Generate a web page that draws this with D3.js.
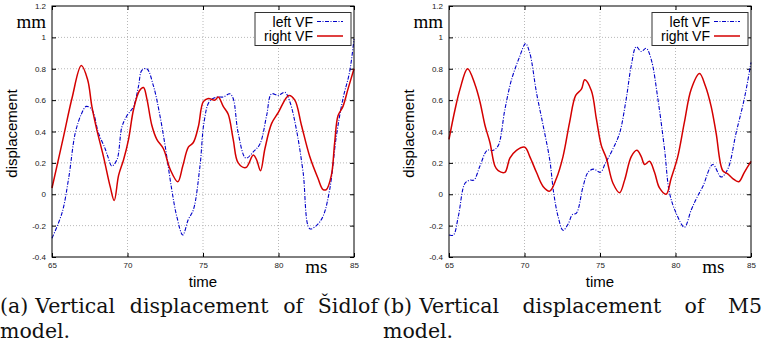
<!DOCTYPE html>
<html>
<head>
<meta charset="utf-8">
<script src="https://cdn.jsdelivr.net/npm/d3@7"></script>
<style>
  body { margin: 0; background: #fff; }
  svg { display: block; }
</style>
</head>
<body>
<div id="chart"></div>
<script>
const timeTicks = [65, 70, 75, 80, 85];
const dispTicks = [-0.4, -0.2, 0, 0.2, 0.4, 0.6, 0.8, 1, 1.2];
const legendLabels = ['left VF', 'right VF'];

// Sidlof model
const sidlofLeftT = [65.00, 65.66, 66.10, 66.54, 66.94, 67.27, 67.64, 68.08, 68.52, 68.70, 68.96, 69.30, 69.63, 69.96, 70.40, 70.73, 70.95, 71.28, 71.72, 72.11, 72.49, 72.93, 73.26, 73.66, 74.03, 74.36, 74.80, 75.07, 75.42, 75.90, 76.34, 76.78, 77.00, 77.33, 77.84, 78.33, 78.77, 79.21, 79.54, 79.98, 80.42, 80.75, 81.19, 81.63, 82.07, 82.51, 82.95, 83.39, 83.83, 84.27, 84.71, 85.00];
const sidlofLeftY = [-0.28, -0.12, 0.10, 0.39, 0.51, 0.56, 0.54, 0.39, 0.29, 0.24, 0.18, 0.22, 0.43, 0.50, 0.56, 0.69, 0.79, 0.80, 0.69, 0.52, 0.31, 0.03, -0.14, -0.26, -0.16, -0.10, 0.18, 0.46, 0.59, 0.62, 0.62, 0.64, 0.61, 0.39, 0.23, 0.27, 0.32, 0.50, 0.64, 0.63, 0.65, 0.59, 0.41, 0.14, -0.22, -0.20, -0.14, 0.03, 0.37, 0.61, 0.78, 0.99];
const sidlofRightT = [65.00, 65.77, 66.32, 66.94, 67.36, 67.64, 67.97, 68.41, 68.85, 69.12, 69.41, 69.74, 70.07, 70.40, 70.79, 71.06, 71.28, 71.61, 71.94, 72.38, 72.82, 73.33, 73.66, 74.03, 74.36, 74.69, 75.02, 75.35, 75.79, 76.01, 76.34, 76.67, 77.00, 77.33, 77.84, 78.33, 78.55, 78.81, 79.10, 79.54, 79.98, 80.68, 81.08, 81.52, 82.07, 82.62, 82.95, 83.17, 83.50, 83.72, 83.94, 84.27, 84.60, 85.00];
const sidlofRightY = [0.04, 0.37, 0.61, 0.82, 0.73, 0.56, 0.41, 0.24, 0.05, -0.04, 0.12, 0.22, 0.35, 0.54, 0.66, 0.68, 0.61, 0.44, 0.35, 0.29, 0.16, 0.08, 0.18, 0.30, 0.33, 0.43, 0.59, 0.61, 0.60, 0.62, 0.56, 0.51, 0.35, 0.20, 0.17, 0.25, 0.22, 0.15, 0.29, 0.45, 0.52, 0.63, 0.60, 0.44, 0.24, 0.10, 0.03, 0.03, 0.12, 0.33, 0.50, 0.56, 0.67, 0.80];

// M5 model
const m5LeftT = [65.00, 65.29, 65.62, 66.06, 66.39, 66.65, 67.05, 67.53, 67.93, 68.26, 68.70, 69.14, 69.69, 70.07, 70.35, 70.79, 71.23, 71.67, 71.93, 72.22, 72.55, 72.89, 73.17, 73.44, 73.88, 74.21, 74.58, 75.02, 75.37, 75.86, 76.30, 76.74, 77.07, 77.40, 77.73, 78.06, 78.39, 78.83, 79.27, 79.60, 80.04, 80.59, 81.04, 81.37, 81.81, 82.47, 83.02, 83.46, 84.01, 84.56, 85.00];
const m5LeftY = [-0.26, -0.26, -0.14, 0.07, 0.09, 0.09, 0.18, 0.28, 0.28, 0.31, 0.54, 0.73, 0.88, 0.96, 0.90, 0.65, 0.44, 0.22, 0.01, -0.14, -0.23, -0.19, -0.13, -0.12, 0.05, 0.14, 0.16, 0.14, 0.20, 0.29, 0.39, 0.61, 0.82, 0.94, 0.91, 0.93, 0.86, 0.61, 0.29, 0.01, -0.12, -0.21, -0.10, -0.03, 0.05, 0.19, 0.11, 0.16, 0.39, 0.61, 0.84];
const m5RightT = [65.00, 65.40, 65.73, 66.23, 66.72, 67.05, 67.38, 67.71, 68.04, 68.26, 68.70, 69.03, 69.47, 70.02, 70.35, 70.79, 71.23, 71.67, 72.11, 72.55, 72.99, 73.39, 73.77, 73.99, 74.43, 74.76, 75.09, 75.42, 75.86, 76.30, 76.63, 77.07, 77.44, 77.73, 77.95, 78.28, 78.61, 78.94, 79.38, 79.71, 80.15, 80.59, 81.04, 81.59, 81.98, 82.36, 82.69, 83.13, 83.46, 83.79, 84.19, 84.56, 85.00];
const m5RightY = [0.35, 0.54, 0.67, 0.80, 0.70, 0.59, 0.44, 0.33, 0.18, 0.15, 0.14, 0.23, 0.28, 0.30, 0.24, 0.14, 0.05, 0.02, 0.10, 0.24, 0.46, 0.63, 0.67, 0.73, 0.66, 0.48, 0.31, 0.23, 0.07, 0.01, 0.09, 0.24, 0.28, 0.24, 0.19, 0.21, 0.14, 0.04, 0.00, 0.10, 0.24, 0.46, 0.67, 0.77, 0.69, 0.56, 0.39, 0.15, 0.13, 0.10, 0.08, 0.14, 0.21];

const captionA = ['(a)', 'Vertical', 'displacement', 'of', 'Šidlof'];
const captionB = ['(b)', 'Vertical', 'displacement', 'of', 'M5'];
const captionEnd = 'model.';

const width = 763, height = 350;
const sans = '"Liberation Sans", Arial, sans-serif';
const serif = '"Liberation Serif", "Times New Roman", serif';
const capSerif = '"DejaVu Serif", serif';
const red = '#d40000', blue = '#0000c8';

const svg = d3.select('#chart')
  .append('svg')
  .attr('width', width)
  .attr('height', height);

function zipped(ts, ys) {
  return ts.map((t, i) => [t, ys[i]]);
}

function drawPanel(left, right, series, caption, capLeft, capRight) {
  const top = 6, bottom = 257;
  const x = d3.scaleLinear().domain([65, 85]).range([left, right]);
  const y = d3.scaleLinear().domain([-0.4, 1.2]).range([bottom, top]);
  const g = svg.append('g');
  const fmt = d => String(+d.toFixed(1));

  // dotted grid
  g.append('g')
    .selectAll('line')
    .data(timeTicks.slice(1, -1))
    .enter()
    .append('line')
    .attr('x1', d => x(d)).attr('x2', d => x(d))
    .attr('y1', top).attr('y2', bottom)
    .attr('stroke', '#b8b8b8')
    .attr('stroke-width', 1)
    .attr('stroke-dasharray', '1,2');

  g.append('g')
    .selectAll('line')
    .data(dispTicks.slice(1, -1))
    .enter()
    .append('line')
    .attr('x1', left).attr('x2', right)
    .attr('y1', d => y(d)).attr('y2', d => y(d))
    .attr('stroke', '#b8b8b8')
    .attr('stroke-width', 1)
    .attr('stroke-dasharray', '1,2');

  // axes with inward ticks, mirrored on top and right
  const axes = [
    [d3.axisLeft(y).tickValues(dispTicks).tickFormat(fmt), `translate(${left},0)`],
    [d3.axisBottom(x).tickValues(timeTicks).tickFormat(fmt), `translate(0,${bottom})`],
    [d3.axisRight(y).tickValues(dispTicks).tickFormat(''), `translate(${right},0)`],
    [d3.axisTop(x).tickValues(timeTicks).tickFormat(''), `translate(0,${top})`]
  ];
  axes.forEach(([ax, tr], i) => {
    const a = g.append('g')
      .attr('transform', tr)
      .call(ax.tickSize(-4).tickSizeOuter(0).tickPadding(i === 0 ? 6 : 5));
    a.select('.domain').remove();
    a.selectAll('line').attr('stroke', '#000');
    a.selectAll('text')
      .attr('font-family', sans)
      .attr('font-size', '8px')
      .attr('fill', '#222');
  });

  // lines
  const line = d3.line()
    .x(d => x(d[0]))
    .y(d => y(d[1]))
    .curve(d3.curveCatmullRom.alpha(0.5));

  g.append('path')
    .datum(series.left)
    .attr('d', line)
    .attr('fill', 'none')
    .attr('stroke', blue)
    .attr('stroke-width', 1.1)
    .attr('stroke-dasharray', '4,1.5,1,1.5');

  g.append('path')
    .datum(series.right)
    .attr('d', line)
    .attr('fill', 'none')
    .attr('stroke', red)
    .attr('stroke-width', 1.5);

  // frame
  g.append('rect')
    .attr('x', left).attr('y', top)
    .attr('width', right - left).attr('height', bottom - top)
    .attr('fill', 'none')
    .attr('stroke', '#000')
    .attr('stroke-width', 1);

  // legend
  const lx1 = right - 3, lx0 = right - 99;
  g.append('rect')
    .attr('x', lx0).attr('y', 12.5)
    .attr('width', lx1 - lx0).attr('height', 33)
    .attr('fill', '#fff')
    .attr('stroke', '#333')
    .attr('stroke-width', 1);
  legendLabels.forEach((lab, i) => {
    const yy = 21.5 + i * 14.5;
    g.append('text')
      .attr('x', right - 41).attr('y', yy)
      .attr('dy', '0.36em')
      .attr('text-anchor', 'end')
      .attr('font-family', sans)
      .attr('font-size', '14px')
      .attr('fill', '#000')
      .text(lab);
    g.append('line')
      .attr('x1', right - 37).attr('x2', right - 11)
      .attr('y1', yy).attr('y2', yy)
      .attr('stroke', i === 0 ? blue : red)
      .attr('stroke-width', i === 0 ? 1.1 : 1.5)
      .attr('stroke-dasharray', i === 0 ? '4,1.5,1,1.5' : null);
  });

  // units and axis labels
  g.append('text')
    .attr('x', left - 6).attr('y', 28)
    .attr('text-anchor', 'end')
    .attr('font-family', serif)
    .attr('font-size', '19px')
    .text('mm');
  g.append('text')
    .attr('x', x(82.5)).attr('y', 273)
    .attr('text-anchor', 'middle')
    .attr('font-family', serif)
    .attr('font-size', '19px')
    .text('ms');
  g.append('text')
    .attr('x', (left + right) / 2).attr('y', 287)
    .attr('text-anchor', 'middle')
    .attr('font-family', sans)
    .attr('font-size', '15px')
    .text('time');
  g.append('text')
    .attr('transform', `translate(${left - 35},${(top + bottom) / 2 + 2}) rotate(-90)`)
    .attr('text-anchor', 'middle')
    .attr('font-family', sans)
    .attr('font-size', '15px')
    .text('displacement');

  // justified caption: short space after the label, stretched spaces after
  const words = caption.map(w => g.append('text')
    .attr('y', 313)
    .attr('font-family', capSerif)
    .attr('font-size', '20.5px')
    .attr('fill', '#111')
    .text(w));
  const widths = words.map(w => w.node().getComputedTextLength());
  const start = capLeft + widths[0] + 7;
  const gap = (capRight - start - d3.sum(widths.slice(1))) / (words.length - 2);
  words[0].attr('x', capLeft);
  let cx = start;
  words.slice(1).forEach((w, i) => {
    w.attr('x', cx);
    cx += widths[i + 1] + gap;
  });
  g.append('text')
    .attr('x', capLeft).attr('y', 338)
    .attr('font-family', capSerif)
    .attr('font-size', '20.5px')
    .attr('fill', '#111')
    .text(captionEnd);
}

drawPanel(52, 354,
  { left: zipped(sidlofLeftT, sidlofLeftY), right: zipped(sidlofRightT, sidlofRightY) },
  captionA, 0, 378);
drawPanel(449, 751,
  { left: zipped(m5LeftT, m5LeftY), right: zipped(m5RightT, m5RightY) },
  captionB, 383, 762);
</script>
</body>
</html>
